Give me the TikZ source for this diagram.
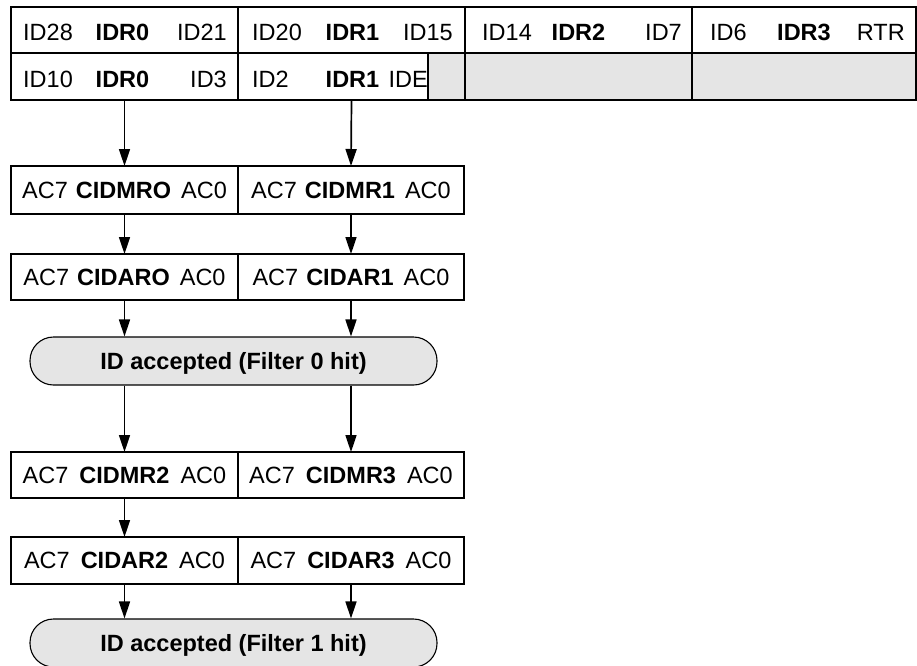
\documentclass[tikz,border=0pt]{standalone}
\usepackage{fontspec}
\setmainfont{Liberation Sans}
\usetikzlibrary{arrows.meta}
\definecolor{cellgrey}{RGB}{229,229,229}
\tikzset{
  cell/.style={draw, line width=1.4pt, inner sep=0pt, outer sep=0pt},
  greycell/.style={cell, fill=cellgrey},
  frame/.style={draw, line width=2.4pt},
  txt/.style={inner sep=0pt, font=\fontsize{23.5}{28}\selectfont, text height=16.5pt, text depth=0pt},
  ctxt/.style={cell, font=\fontsize{23.5}{28}\selectfont, text height=16.5pt, text depth=0pt},
  hit/.style={draw, line width=1.1pt, fill=cellgrey, rounded corners=23.5pt, minimum width=407pt, minimum height=48pt, inner sep=0pt, font=\bfseries\fontsize{23.5}{28}\selectfont, text height=16.5pt, text depth=0pt},
  arr/.style={line width=1.7pt, -{Triangle[length=17pt,width=11pt]}}
}
\begin{document}
\begin{tikzpicture}[x=1pt,y=-1pt]
\useasboundingbox (0,0) rectangle (917,665);
% ---- top table ----
\node[cell, minimum width=227pt, minimum height=46pt] (t11) at (124.5,30) {};
\node[cell, minimum width=227pt, minimum height=46pt] (t12) at (351.5,30) {};
\node[cell, minimum width=227pt, minimum height=46pt] (t13) at (578.5,30) {};
\node[cell, minimum width=224pt, minimum height=46pt] (t14) at (804,30) {};
\node[cell, minimum width=227pt, minimum height=47pt] (t21) at (124.5,76.5) {};
\node[cell, minimum width=190pt, minimum height=47pt] (t22) at (333,76.5) {};
\node[greycell, minimum width=37pt, minimum height=47pt] (t23) at (446.5,76.5) {};
\node[greycell, minimum width=227pt, minimum height=47pt] (t24) at (578.5,76.5) {};
\node[greycell, minimum width=224pt, minimum height=47pt] (t25) at (804,76.5) {};
\draw[frame] (t11.north west) rectangle (t25.south east);
% texts row 1
\node[txt, anchor=west] at ([xshift=12pt,yshift=-2.5pt]t11.west) {ID28};
\node[txt] at ([xshift=-2pt,yshift=-2.5pt]t11.center) {\bfseries IDR0};
\node[txt, anchor=east] at ([xshift=-11pt,yshift=-2.5pt]t11.east) {ID21};
\node[txt, anchor=west] at ([xshift=14pt,yshift=-2.5pt]t12.west) {ID20};
\node[txt] at ([xshift=1pt,yshift=-2.5pt]t12.center) {\bfseries IDR1};
\node[txt, anchor=east] at ([xshift=-12pt,yshift=-2.5pt]t12.east) {ID15};
\node[txt, anchor=west] at ([xshift=17pt,yshift=-2.5pt]t13.west) {ID14};
\node[txt] at ([xshift=0pt,yshift=-2.5pt]t13.center) {\bfseries IDR2};
\node[txt, anchor=east] at ([xshift=-10pt,yshift=-2.5pt]t13.east) {ID7};
\node[txt, anchor=west] at ([xshift=18pt,yshift=-2.5pt]t14.west) {ID6};
\node[txt] at ([xshift=0pt,yshift=-2.5pt]t14.center) {\bfseries IDR3};
\node[txt, anchor=east] at ([xshift=-11pt,yshift=-2.5pt]t14.east) {RTR};
% texts row 2
\node[txt, anchor=west] at ([xshift=12pt,yshift=-3pt]t21.west) {ID10};
\node[txt] at ([xshift=-2pt,yshift=-3pt]t21.center) {\bfseries IDR0};
\node[txt, anchor=east] at ([xshift=-11pt,yshift=-3pt]t21.east) {ID3};
\node[txt, anchor=west] at ([xshift=14pt,yshift=-3pt]t22.west) {ID2};
\node[txt] at ([xshift=19.5pt,yshift=-3pt]t22.center) {\bfseries IDR1};
\node[txt, anchor=east] at ([xshift=0pt,yshift=-3pt]t22.east) {IDE};
% ---- filter 0 ----
\node[ctxt, minimum width=227pt, minimum height=48pt] (mr0) at (124.5,190) {AC7\hspace{8pt}\textbf{CIDMRO}\hspace{10pt}AC0};
\node[ctxt, minimum width=226pt, minimum height=48pt] (mr1) at (351,190) {AC7\hspace{8pt}\textbf{CIDMR1}\hspace{10pt}AC0};
\draw[frame] (mr0.north west) rectangle (mr1.south east);
\node[ctxt, minimum width=227pt, minimum height=46pt] (ar0) at (124.5,277) {AC7\hspace{8pt}\textbf{CIDARO}\hspace{10pt}AC0};
\node[ctxt, minimum width=226pt, minimum height=46pt] (ar1) at (351,277) {AC7\hspace{8pt}\textbf{CIDAR1}\hspace{10pt}AC0};
\draw[frame] (ar0.north west) rectangle (ar1.south east);
\node[hit] (f0) at (233.5,361) {ID accepted (Filter 0 hit)};
% ---- filter 1 ----
\node[ctxt, minimum width=227pt, minimum height=46pt] (mr2) at (124.5,475) {AC7\hspace{11pt}\textbf{CIDMR2}\hspace{11pt}AC0};
\node[ctxt, minimum width=226pt, minimum height=46pt] (mr3) at (351,475) {AC7\hspace{11pt}\textbf{CIDMR3}\hspace{11pt}AC0};
\draw[frame] (mr2.north west) rectangle (mr3.south east);
\node[ctxt, minimum width=227pt, minimum height=47pt] (ar2) at (124.5,560.5) {AC7\hspace{11pt}\textbf{CIDAR2}\hspace{11pt}AC0};
\node[ctxt, minimum width=226pt, minimum height=47pt] (ar3) at (351,560.5) {AC7\hspace{11pt}\textbf{CIDAR3}\hspace{11pt}AC0};
\draw[frame] (ar2.north west) rectangle (ar3.south east);
\node[hit] (f1) at (233.5,643) {ID accepted (Filter 1 hit)};
% ---- arrows ----
\coordinate (s1) at (t12.center |- t22.south);
\draw[arr] (t21.south) -- (mr0.north);
\draw[arr] (s1) -- (mr1.north);
\draw[arr] (mr0.south) -- (ar0.north);
\draw[arr] (mr1.south) -- (ar1.north);
\draw[arr] (ar0.south) -- (ar0.south |- f0.north);
\draw[arr] (ar1.south) -- (ar1.south |- f0.north);
\draw[arr] (ar0.south |- f0.south) -- (mr2.north);
\draw[arr] (ar1.south |- f0.south) -- (mr3.north);
\draw[arr] (mr2.south) -- (ar2.north);
\draw[arr] (ar2.south) -- (ar2.south |- f1.north);
\draw[arr] (ar3.south) -- (ar3.south |- f1.north);
\end{tikzpicture}
\end{document}
